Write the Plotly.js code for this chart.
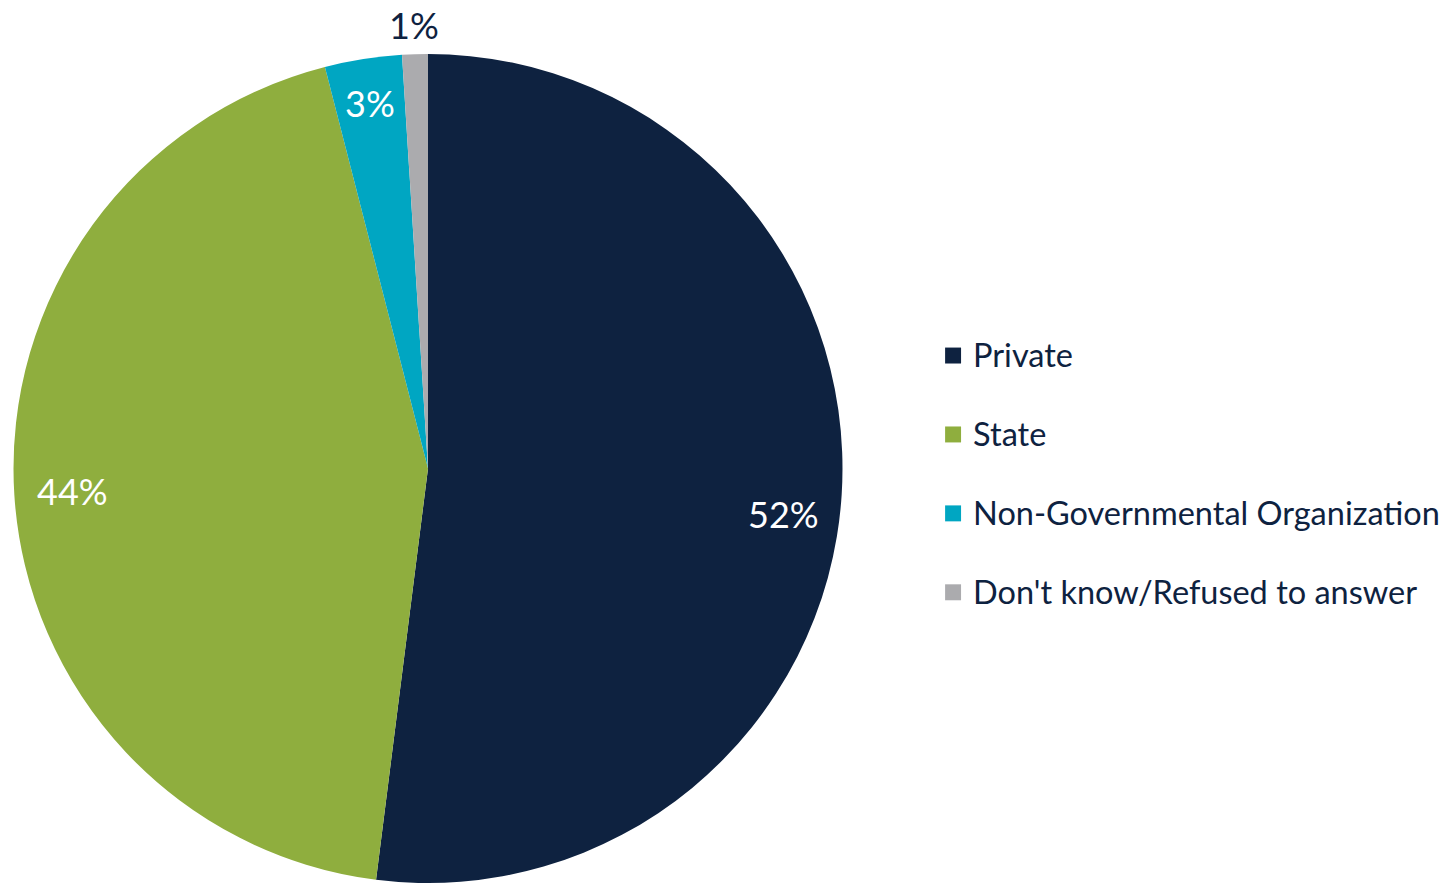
<!DOCTYPE html>
<html>
<head>
<meta charset="utf-8">
<script src="https://cdn.plot.ly/plotly-3.0.1.min.js"></script>
<style>
html,body{margin:0;padding:0;background:#fff;}
#chart{width:1454px;height:883px;}
</style>
</head>
<body>
<div id="chart"></div>
<script>
const categories = ["Private", "State", "Non-Governmental Organization", "Don't know/Refused to answer"];
const shares = [52, 44, 3, 1];
const sliceColors = ["#0E2240", "#8FAE3E", "#00A6C2", "#ABABAE"];
const labelColors = ["#FFFFFF", "#FFFFFF", "#FFFFFF", "#0E2240"];
const labelRadius = [0.86, 0.86, 0.893, 1.07];
const labelYShift = [-23, 0, 0, 0];

const W = 1454, H = 883;
const M = { l: 13, r: 0, t: 54, b: 0 };
const plotW = W - M.l - M.r, plotH = H - M.t - M.b;
const domX = [0, 830 / plotW];

// pie geometry (in paper fractions), derived from domain
const radiusPx = Math.min((domX[1] - domX[0]) * plotW, plotH) / 2;
const cxPaper = (domX[0] + domX[1]) / 2;
const cyPaper = 0.5;

const total = shares.reduce((a, b) => a + b, 0);
let cum = 0;
const annotations = shares.map(function (v, i) {
  const mid = (cum + v / 2) / total * 2 * Math.PI;
  cum += v;
  const r = radiusPx * labelRadius[i];
  return {
    xref: "paper", yref: "paper",
    x: cxPaper + r * Math.sin(mid) / plotW,
    y: cyPaper + r * Math.cos(mid) / plotH,
    yshift: labelYShift[i],
    xanchor: "center", yanchor: "middle",
    text: Math.round(v / total * 100) + "%",
    showarrow: false,
    font: { family: "Lato, sans-serif", size: 36, color: labelColors[i] }
  };
});

const trace = {
  type: "pie",
  labels: categories.map(c => '<span style="font-size:32.5px">' + c + '</span><br> '),
  values: shares,
  sort: false,
  direction: "clockwise",
  rotation: 0,
  marker: { colors: sliceColors, line: { width: 0 } },
  textinfo: "none",
  domain: { x: domX, y: [0, 1] },
  hoverinfo: "label+percent"
};

const layout = {
  width: W,
  height: H,
  margin: M,
  paper_bgcolor: "#fff",
  showlegend: true,
  annotations: annotations,
  legend: {
    x: 0.6385, xanchor: "left",
    y: 0.667, yanchor: "top",
    valign: "top",
    font: { family: "Lato, sans-serif", size: 29.2, color: "#0E2240" }
  }
};

Plotly.newPlot("chart", [trace], layout, { displayModeBar: false, staticPlot: true }).then(function (gd) {
  gd.querySelectorAll(".legendpoints path").forEach(function (p) {
    p.setAttribute("transform", (p.getAttribute("transform") || "") + " scale(1.33)");
  });
});
</script>
</body>
</html>
